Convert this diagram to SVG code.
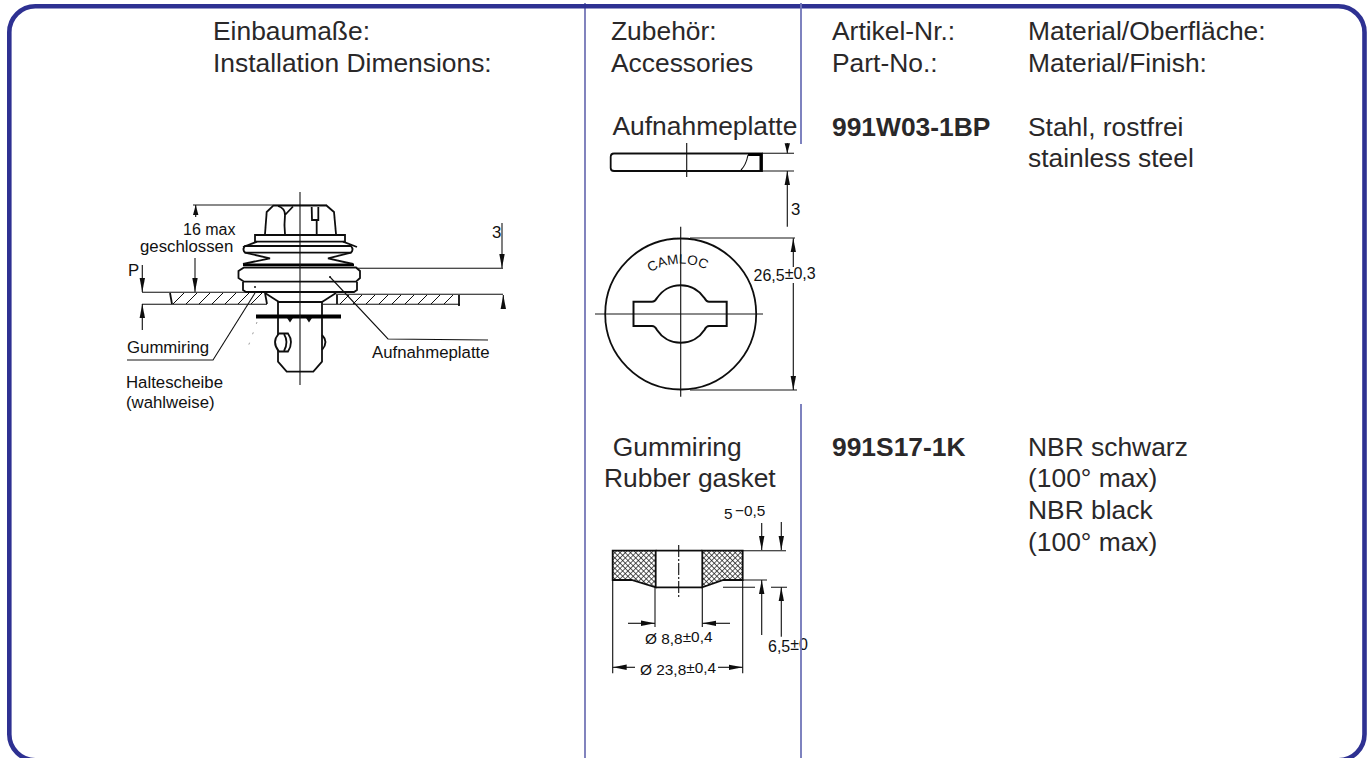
<svg xmlns="http://www.w3.org/2000/svg" width="1372" height="758" viewBox="0 0 1372 758">
<style>
.t{font-family:"Liberation Sans",Arial,sans-serif;font-size:26.4px;fill:#2a2829}
.b{font-weight:bold}
.s{font-family:"Liberation Sans",Arial,sans-serif;font-size:16.8px;fill:#111}
.sm{font-family:"Liberation Sans",Arial,sans-serif;font-size:15.4px;fill:#111}
.l{fill:none;stroke:#111;stroke-width:1.1}
.m{fill:none;stroke:#111;stroke-width:1.8}
.k{fill:none;stroke:#000;stroke-width:2.6}
.w{fill:#fff;stroke:#111;stroke-width:1.8}
.d{fill:none;stroke:#7075b8;stroke-width:1.8}
.e{fill:none;stroke:#2e3192;stroke-width:1.2}
.h{fill:none;stroke:#111;stroke-width:1}
</style>
<defs>
<marker id="a" markerUnits="userSpaceOnUse" markerWidth="14" markerHeight="8" refX="14" refY="4" orient="auto-start-reverse"><path d="M0 1.300L14 4L0 6.700Z" fill="#111"/></marker>
<marker id="c" markerUnits="userSpaceOnUse" markerWidth="10" markerHeight="8" refX="10" refY="4" orient="auto-start-reverse"><path d="M0 1.300L10 4L0 6.700Z" fill="#111"/></marker>
<pattern id="x" patternUnits="userSpaceOnUse" width="3.700" height="3.700" patternTransform="rotate(45)"><rect width="3.700" height="3.700" fill="#fff"/><path d="M0 0H3.700M0 0V3.700" stroke="#111" stroke-width="1.300"/></pattern>
<filter id="soft" x="-5%" y="-5%" width="110%" height="110%"><feGaussianBlur stdDeviation="0.3"/></filter>
<path id="arc" d="M650.500 272.500A56 56 0 0 1 711 272.500"/>
</defs>
<rect width="1372" height="758" fill="#fff"/>

<g id="installation-drawing" filter="url(#soft)">
<path class="m" d="M265 234L266.700 212L273.300 205.700H326.700L334 212L336 234"/>
<path class="l" d="M193 205H327"/>
<path class="m" d="M285 215L293 206.500M285 215Q284 225 285 234M311.700 207L312 220H318.300L318.300 207M316.700 220V234M278 206Q285 208 285 215"/>
<path class="w" d="M255 235H345V241.700H255Z"/>
<path class="m" d="M257 241.700L243 247M343 241.700L357 247"/>
<path class="w" d="M245 246H351Q354 249.500 351 252.700H245Q242 249.500 245 246Z"/>
<path class="m" d="M245 252.700L270 258.300L243 264M351 252.700L328 258.300L353 264"/>
<path class="k" d="M243 264.700H354"/>
<path class="w" d="M244 267.500H356L360 271V278L356 281.700H244L238.500 278V271Z"/>
<path class="m" d="M243 282V290L246 292H354L357 290V282"/>
<path class="m" d="M265 293L279 302M336 293L322 302M279 302H322"/>
<path class="w" d="M278 302H322V361.700L313.300 371.700H286.700L278 361.700Z"/>
<path class="l" d="M142 292.300H264M336 294.300H503M142 304.300H267M323 304.300H460"/>
<path class="m" d="M170 293L172 304M265 293L267 304M337 295V304M459 295V306"/>
<path class="h" d="M173 304L184 293M186 304L197 293M199 304L210 293M212 304L223 293M225 304L236 293M238 304L249 293M251 304L262 293M340 304L349 295M353 304L362 295M366 304L375 295M379 304L388 295M392 304L401 295M405 304L414 295M418 304L427 295M431 304L440 295M444 304L453 295"/>
<path class="k" d="M256 316.500H341" style="stroke-width:3.800"/>
<path d="M287 318H293L290 322.500ZM306 318H312L309 322.500Z" fill="#111"/>
<path class="m" d="M322 335Q329 342 322 350"/>
<path class="w" d="M279 333.500H288Q294 342 288 351.500H279Q271 342 279 333.500Z"/>
<path class="m" d="M284 334Q289 342 284 351"/>
<path class="l" d="M300 192V385"/>
<path class="l" d="M127 360H213L255 293"/><circle cx="255" cy="287" r="1" fill="#111"/>
<path class="l" d="M330 277L388 339L488 340"/><circle cx="330" cy="277" r="1" fill="#111"/>
<path fill="none" stroke="#999" stroke-width="1" stroke-dasharray="2 9" d="M257 322L248 347"/>
<path class="l" marker-start="url(#c)" d="M195.700 205V217"/>
<path class="l" marker-end="url(#a)" d="M195 258V292"/>
<path class="l" marker-end="url(#a)" d="M142.300 265V292"/>
<path class="l" marker-start="url(#a)" d="M142.300 304V330"/>
<path class="l" marker-end="url(#a)" d="M502 223V268"/>
<path class="l" marker-start="url(#a)" d="M503.300 295V308"/>
<path class="l" d="M357 268.300H503"/>
</g>
<g id="installation-labels">
<text class="s" x="183" y="235" style="font-size:16px">16 max</text>
<text class="s" x="140" y="251.500">geschlossen</text>
<text class="s" x="128" y="276">P</text>
<text class="s" x="492" y="238">3</text>
<text class="s" x="127" y="353">Gummiring</text>
<text class="s" x="372" y="358">Aufnahmeplatte</text>
<text class="s" x="126" y="388">Haltescheibe</text>
<text class="s" x="126" y="408">(wahlweise)</text>
</g>

<g id="plate-drawing" filter="url(#soft)">
<path class="m" d="M614 153.500H762V171H614Q610.700 171 610.700 168V157Q610.700 153.500 614 153.500Z"/>
<path class="k" d="M748 154.500H761V171" style="stroke-width:3"/>
<path class="l" d="M748 155Q746 165 741 170M686.700 143V177M762 153.300H794M762 171H794"/>
<path class="l" marker-end="url(#c)" d="M787.300 143V153.300"/>
<path class="l" marker-start="url(#a)" d="M787.300 171V226.700"/>
<circle class="m" cx="680.700" cy="314" r="75.500"/>
<path class="m" d="M633.500 301.700H652Q655 301.700 657 298A28.300 28.300 0 0 1 704.400 298Q706.400 301.700 709 301.700H726.700V326H709Q706.400 326 704.400 330A28.300 28.300 0 0 1 657 330Q655 326 652 326H633.500Z" style="stroke-width:2"/>
<path class="l" d="M680.700 226.700V396.700M595 314H763"/>
<path class="l" d="M690 238H795M690 390H797"/>
<path class="l" marker-start="url(#a)" d="M793.300 238.300V267"/>
<path class="l" marker-end="url(#a)" d="M793.300 283V390"/>
</g>
<g id="plate-labels">
<text font-family="Liberation Sans, Arial, sans-serif" font-size="13.500" fill="#111"><textPath href="#arc">CAMLOC</textPath></text>
<text class="s" x="791" y="215">3</text>
<text class="sm" x="753.500" y="281" style="font-size:16px">26,5<tspan dy="-2">±0,3</tspan></text>
</g>

<g id="gasket-drawing" filter="url(#soft)">
<path d="M612.700 550.700H655.700V587.300L631.700 580H612.700Z" fill="url(#x)" stroke="#111" stroke-width="1.800"/>
<path d="M702.300 550.700H742.700V580H723.300L702.300 587.300Z" fill="url(#x)" stroke="#111" stroke-width="1.800"/>
<path class="m" d="M655.700 550.700H702.300M655.700 587.300H702.300"/>
<path class="l" stroke-dasharray="12 2 2 2" d="M678.700 545V597"/>
<path class="l" d="M612.700 580V673.300M742.700 580V673.300M655 587V627M702.300 587V627M742.700 550.700H786M742.700 580H767M723 587.300H755M771 587.300H787"/>
<path class="l" marker-end="url(#a)" d="M628 623.300H655"/>
<path class="l" marker-start="url(#a)" d="M702.300 623.300H730"/>
<path class="l" marker-start="url(#a)" d="M612.700 667.300H635"/>
<path class="l" marker-end="url(#a)" d="M718 667.300H742.700"/>
<path class="l" marker-end="url(#a)" d="M761.700 523V550"/>
<path class="l" marker-start="url(#a)" d="M761.700 580V635"/>
<path class="l" marker-end="url(#a)" d="M781.300 522V550"/>
<path class="l" marker-start="url(#a)" d="M781.300 587.300V636.700"/>
</g>
<g id="gasket-labels">
<text class="sm" x="724" y="519">5</text>
<text class="sm" x="735" y="516">−0,5</text>
<text class="sm" x="645" y="644.300">Ø 8,8<tspan dy="-2">±0,4</tspan></text>
<text class="sm" x="640" y="675">Ø 23,8<tspan dy="-2">±0,4</tspan></text>
<text class="sm" x="768" y="652" style="font-size:16px">6,5<tspan dy="-2">±0</tspan></text>
</g>

<g id="frame">
<rect x="9.300" y="6.200" width="1355.200" height="754" rx="26" fill="none" stroke="#2e3192" stroke-width="4.600"/>
<path class="e" d="M585 3V758"/>
<path class="d" d="M801 3V144M801 404V758"/>
</g>

<g id="installation-header">
<text class="t" x="213" y="40">Einbaumaße:</text>
<text class="t" x="213" y="71.700">Installation Dimensions:</text>
</g>
<g id="accessories-header">
<text class="t" x="611" y="40">Zubehör:</text>
<text class="t" x="611" y="71.700">Accessories</text>
</g>
<g id="part-header">
<text class="t" x="832" y="40">Artikel-Nr.:</text>
<text class="t" x="832" y="71.700">Part-No.:</text>
</g>
<g id="material-header">
<text class="t" x="1028" y="40">Material/Oberfläche:</text>
<text class="t" x="1028" y="71.700">Material/Finish:</text>
</g>
<g id="plate-row">
<text class="t" x="612.500" y="135">Aufnahmeplatte</text>
<text class="t b" x="832" y="136">991W03-1BP</text>
<text class="t" x="1028" y="136">Stahl, rostfrei</text>
<text class="t" x="1028" y="167">stainless steel</text>
</g>
<g id="gasket-row">
<text class="t" x="612.700" y="456">Gummiring</text>
<text class="t" x="604" y="487">Rubber gasket</text>
<text class="t b" x="832" y="456">991S17-1K</text>
<text class="t" x="1028" y="456">NBR schwarz</text>
<text class="t" x="1028" y="487">(100° max)</text>
<text class="t" x="1028" y="519">NBR black</text>
<text class="t" x="1028" y="550.700">(100° max)</text>
</g>
</svg>
